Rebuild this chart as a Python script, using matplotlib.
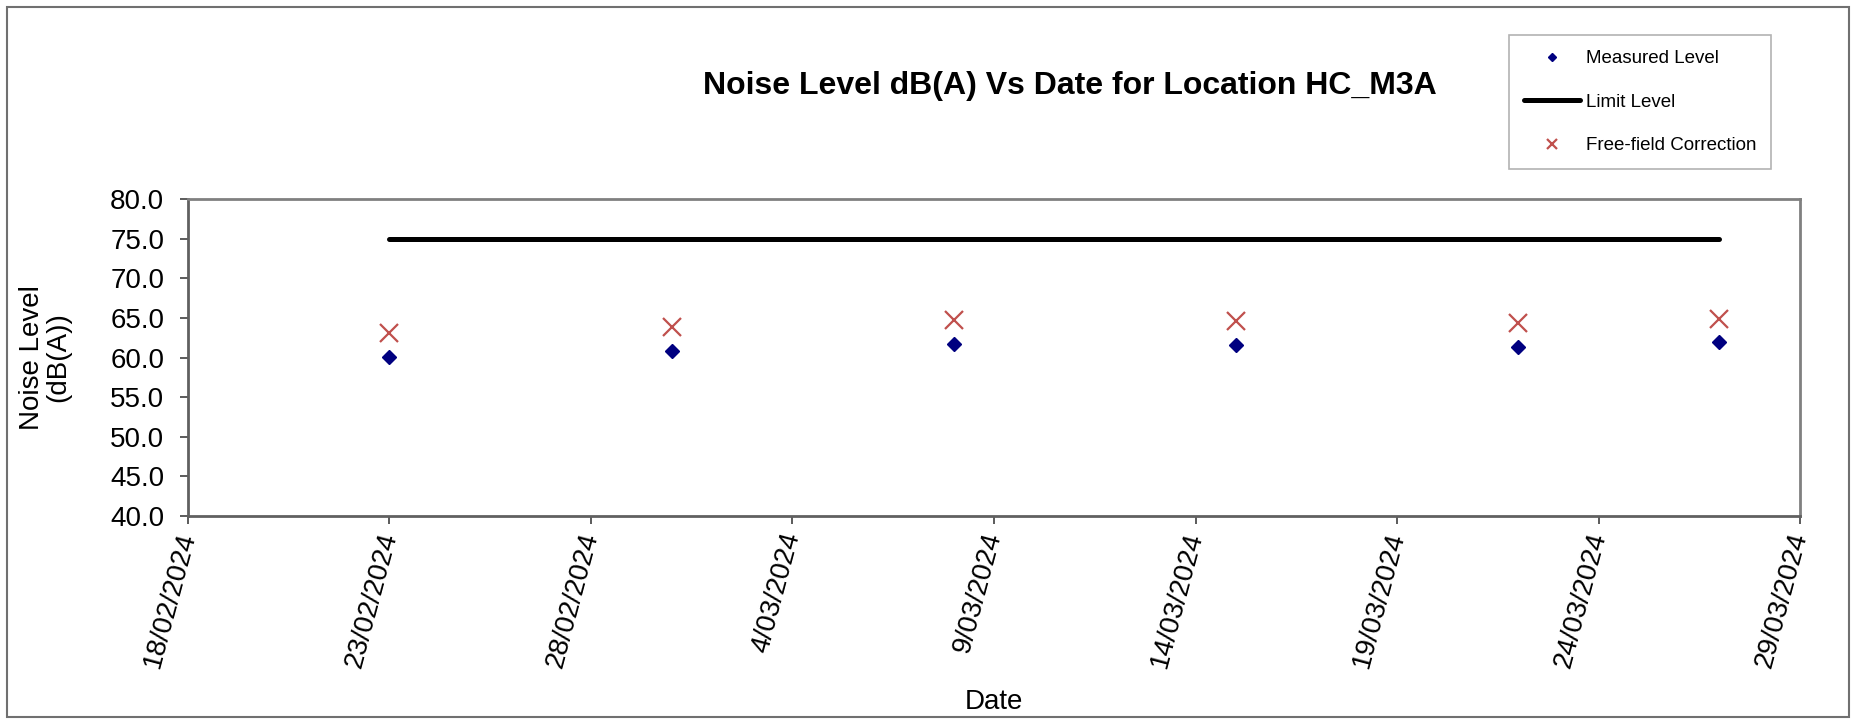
import matplotlib
matplotlib.use('Agg')
import matplotlib.pyplot as plt
from matplotlib.patches import Rectangle
import pandas as pd

plt.rcParams['font.family'] = ['Liberation Sans', 'DejaVu Sans']

# survey dates and levels
dates = pd.to_datetime(['2024-02-23', '2024-03-01', '2024-03-08',
                        '2024-03-15', '2024-03-22', '2024-03-27'])
measured = [60.1, 60.8, 61.7, 61.6, 61.3, 61.9]
corrected = [63.1, 63.8, 64.7, 64.6, 64.3, 64.9]
limit = [75.0, 75.0, 75.0, 75.0, 75.0, 75.0]

tick_dates = pd.date_range('2024-02-18', '2024-03-29', freq='5D')
tick_labels = [f"{d.day}/{d.month:02d}/{d.year}" for d in tick_dates]

fig = plt.figure(figsize=(18.55, 7.2), dpi=100)
ax = fig.add_axes([0.1013, 0.2833, 0.8691, 0.4403])

ax.plot(dates, limit, color='black', lw=3.6, solid_capstyle='round', label='Limit Level', zorder=2)
ax.plot(dates, measured, ls='none', marker='D', ms=7.5, color='#000080', label='Measured Level', zorder=3)
ax.plot(dates, corrected, ls='none', marker='x', ms=13, mew=1.6, color='#C0504D',
        label='Free-field Correction', zorder=3)

ax.set_ylim(40, 80)
ax.set_yticks(range(40, 81, 5))
ax.set_yticklabels([f"{v:.1f}" for v in range(40, 81, 5)], fontsize=20)
ax.set_xlim(tick_dates[0], tick_dates[-1])
ax.set_xticks(tick_dates)
ax.set_xticklabels(tick_labels, fontsize=20, rotation=75, ha='right', va='center',
                   rotation_mode='anchor')

for s in ax.spines.values():
    s.set_color('#808080')
    s.set_linewidth(2)
ax.spines['left'].set_color('#606060')
ax.spines['bottom'].set_color('#606060')
ax.tick_params(axis='both', direction='out', length=6, width=1.2, color='#404040')
ax.tick_params(axis='x', pad=6)
ax.tick_params(axis='y', pad=11)

ax.set_ylabel('Noise Level\n(dB(A))', fontsize=20, linespacing=1.0)
ax.yaxis.set_label_coords(-0.0726, 0.5)
ax.set_xlabel('Date', fontsize=20)
ax.xaxis.set_label_coords(0.5, -0.545)

fig.text(0.577, 0.880, 'Noise Level dB(A) Vs Date for Location HC_M3A',
         fontsize=23, fontweight='bold', ha='center', va='center')

h, l = ax.get_legend_handles_labels()
order = [1, 0, 2]
leg = fig.legend([h[i] for i in order], [l[i] for i in order], loc='upper left',
                 bbox_to_anchor=(0.8135, 0.951), fontsize=13.5, frameon=True, fancybox=False,
                 edgecolor='#A0A0A0', labelspacing=1.4, handlelength=3.0,
                 handletextpad=0.3, borderpad=0.8, borderaxespad=0, markerscale=0.6)
leg.get_frame().set_linewidth(1.2)

fig.patches.append(Rectangle((0.004, 0.004), 0.993, 0.986, transform=fig.transFigure,
                             fill=False, edgecolor='#707070', lw=1.5))

fig.savefig('out.png', dpi=100)
